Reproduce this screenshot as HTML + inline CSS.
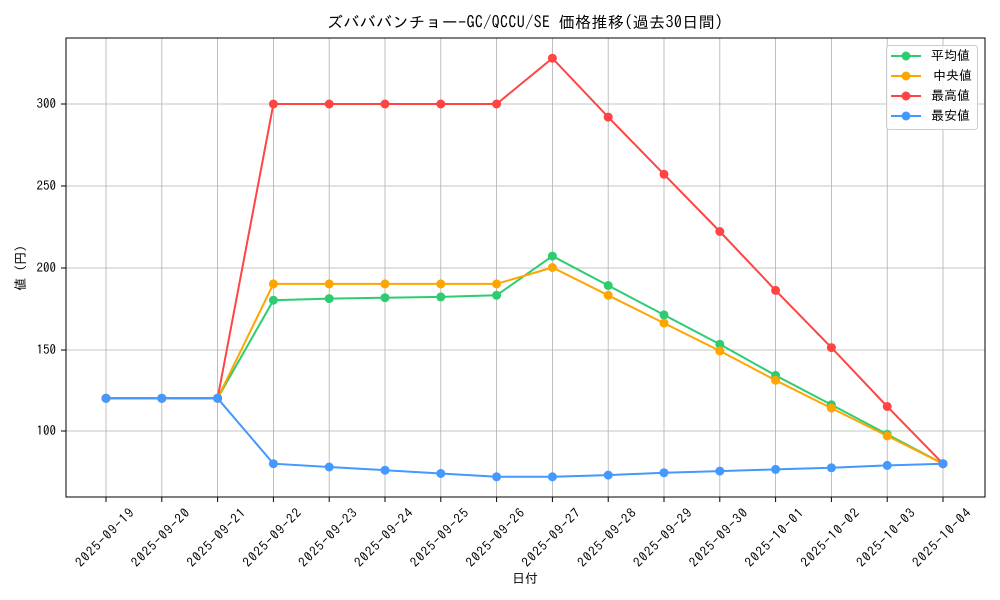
<!DOCTYPE html>
<html><head><meta charset="utf-8"><style>
body{margin:0;background:#fff}
svg{display:block;font-family:"IPAGothic","Noto Sans CJK JP",sans-serif}
</style></head><body>
<svg width="1000" height="600" xmlns="http://www.w3.org/2000/svg">
<rect width="1000" height="600" fill="#fff"/>
<g stroke="#b0b0b0" stroke-width="0.8">
<line x1="106" y1="38" x2="106" y2="497"/><line x1="161.8" y1="38" x2="161.8" y2="497"/><line x1="217.6" y1="38" x2="217.6" y2="497"/><line x1="273.4" y1="38" x2="273.4" y2="497"/><line x1="329.2" y1="38" x2="329.2" y2="497"/><line x1="385" y1="38" x2="385" y2="497"/><line x1="440.8" y1="38" x2="440.8" y2="497"/><line x1="496.6" y1="38" x2="496.6" y2="497"/><line x1="552.4" y1="38" x2="552.4" y2="497"/><line x1="608.2" y1="38" x2="608.2" y2="497"/><line x1="664" y1="38" x2="664" y2="497"/><line x1="719.8" y1="38" x2="719.8" y2="497"/><line x1="775.6" y1="38" x2="775.6" y2="497"/><line x1="831.4" y1="38" x2="831.4" y2="497"/><line x1="887.2" y1="38" x2="887.2" y2="497"/><line x1="943" y1="38" x2="943" y2="497"/>
<line x1="66" y1="104" x2="985" y2="104"/><line x1="66" y1="186" x2="985" y2="186"/><line x1="66" y1="268" x2="985" y2="268"/><line x1="66" y1="350" x2="985" y2="350"/><line x1="66" y1="431" x2="985" y2="431"/>
</g>
<rect x="66" y="38" width="919" height="459" fill="none" stroke="#000" stroke-width="1"/>
<g stroke="#000"><line x1="61" y1="104" x2="66" y2="104"/><line x1="61" y1="186" x2="66" y2="186"/><line x1="61" y1="268" x2="66" y2="268"/><line x1="61" y1="350" x2="66" y2="350"/><line x1="61" y1="431" x2="66" y2="431"/>
<line x1="106" y1="497" x2="106" y2="502"/><line x1="161.8" y1="497" x2="161.8" y2="502"/><line x1="217.6" y1="497" x2="217.6" y2="502"/><line x1="273.4" y1="497" x2="273.4" y2="502"/><line x1="329.2" y1="497" x2="329.2" y2="502"/><line x1="385" y1="497" x2="385" y2="502"/><line x1="440.8" y1="497" x2="440.8" y2="502"/><line x1="496.6" y1="497" x2="496.6" y2="502"/><line x1="552.4" y1="497" x2="552.4" y2="502"/><line x1="608.2" y1="497" x2="608.2" y2="502"/><line x1="664" y1="497" x2="664" y2="502"/><line x1="719.8" y1="497" x2="719.8" y2="502"/><line x1="775.6" y1="497" x2="775.6" y2="502"/><line x1="831.4" y1="497" x2="831.4" y2="502"/><line x1="887.2" y1="497" x2="887.2" y2="502"/><line x1="943" y1="497" x2="943" y2="502"/></g>
<g font-size="13" text-anchor="end" fill="#000"><text x="56" y="108">300</text><text x="56" y="190">250</text><text x="56" y="272">200</text><text x="56" y="354">150</text><text x="56" y="435">100</text></g>
<g font-size="13" text-anchor="middle" fill="#000">
<text transform="translate(105,538) rotate(-45)" y="4" textLength="76">2025-09-19</text><text transform="translate(160.8,538) rotate(-45)" y="4" textLength="76">2025-09-20</text><text transform="translate(216.6,538) rotate(-45)" y="4" textLength="76">2025-09-21</text><text transform="translate(272.4,538) rotate(-45)" y="4" textLength="76">2025-09-22</text><text transform="translate(328.2,538) rotate(-45)" y="4" textLength="76">2025-09-23</text><text transform="translate(384,538) rotate(-45)" y="4" textLength="76">2025-09-24</text><text transform="translate(439.8,538) rotate(-45)" y="4" textLength="76">2025-09-25</text><text transform="translate(495.6,538) rotate(-45)" y="4" textLength="76">2025-09-26</text><text transform="translate(551.4,538) rotate(-45)" y="4" textLength="76">2025-09-27</text><text transform="translate(607.2,538) rotate(-45)" y="4" textLength="76">2025-09-28</text><text transform="translate(663,538) rotate(-45)" y="4" textLength="76">2025-09-29</text><text transform="translate(718.8,538) rotate(-45)" y="4" textLength="76">2025-09-30</text><text transform="translate(774.6,538) rotate(-45)" y="4" textLength="76">2025-10-01</text><text transform="translate(830.4,538) rotate(-45)" y="4" textLength="76">2025-10-02</text><text transform="translate(886.2,538) rotate(-45)" y="4" textLength="76">2025-10-03</text><text transform="translate(942,538) rotate(-45)" y="4" textLength="76">2025-10-04</text>
</g>
<text x="525" y="583" font-size="13" text-anchor="middle">日付</text>
<text transform="translate(25,268) rotate(-90)" font-size="13" text-anchor="middle">値 (円)</text>
<text x="525" y="28" font-size="16" text-anchor="middle" textLength="396">ズバババンチョー-GC/QCCU/SE 価格推移(過去30日間)</text>
<g fill="none" stroke-width="2">
<polyline stroke="#2ecc71" points="106,398.3 161.8,398.3 217.6,398.3 273.4,300.2 329.2,298.6 385,297.7 440.8,296.9 496.6,295.3 552.4,256.1 608.2,285.5 664,314.9 719.8,344.3 775.6,375.4 831.4,404.8 887.2,434.3 943,463.7"/>
<polyline stroke="#ffa500" points="106,398.3 161.8,398.3 217.6,398.3 273.4,283.9 329.2,283.9 385,283.9 440.8,283.9 496.6,283.9 552.4,267.5 608.2,295.3 664,323.1 719.8,350.9 775.6,380.3 831.4,408.1 887.2,435.9 943,463.7"/>
<polyline stroke="#ff4444" points="106,398.3 161.8,398.3 217.6,398.3 273.4,104 329.2,104 385,104 440.8,104 496.6,104 552.4,58.2 608.2,117.1 664,174.3 719.8,231.5 775.6,290.4 831.4,347.6 887.2,406.5 943,463.7"/>
<polyline stroke="#4499ff" points="106,398.3 161.8,398.3 217.6,398.3 273.4,463.7 329.2,467 385,470.2 440.8,473.5 496.6,476.8 552.4,476.8 608.2,475.1 664,472.7 719.8,471.1 775.6,469.4 831.4,467.8 887.2,465.4 943,463.7"/>
</g>
<g fill="#2ecc71"><circle cx="106" cy="398.3" r="4.5"/><circle cx="161.8" cy="398.3" r="4.5"/><circle cx="217.6" cy="398.3" r="4.5"/><circle cx="273.4" cy="300.2" r="4.5"/><circle cx="329.2" cy="298.6" r="4.5"/><circle cx="385" cy="297.7" r="4.5"/><circle cx="440.8" cy="296.9" r="4.5"/><circle cx="496.6" cy="295.3" r="4.5"/><circle cx="552.4" cy="256.1" r="4.5"/><circle cx="608.2" cy="285.5" r="4.5"/><circle cx="664" cy="314.9" r="4.5"/><circle cx="719.8" cy="344.3" r="4.5"/><circle cx="775.6" cy="375.4" r="4.5"/><circle cx="831.4" cy="404.8" r="4.5"/><circle cx="887.2" cy="434.3" r="4.5"/><circle cx="943" cy="463.7" r="4.5"/></g>
<g fill="#ffa500"><circle cx="106" cy="398.3" r="4.5"/><circle cx="161.8" cy="398.3" r="4.5"/><circle cx="217.6" cy="398.3" r="4.5"/><circle cx="273.4" cy="283.9" r="4.5"/><circle cx="329.2" cy="283.9" r="4.5"/><circle cx="385" cy="283.9" r="4.5"/><circle cx="440.8" cy="283.9" r="4.5"/><circle cx="496.6" cy="283.9" r="4.5"/><circle cx="552.4" cy="267.5" r="4.5"/><circle cx="608.2" cy="295.3" r="4.5"/><circle cx="664" cy="323.1" r="4.5"/><circle cx="719.8" cy="350.9" r="4.5"/><circle cx="775.6" cy="380.3" r="4.5"/><circle cx="831.4" cy="408.1" r="4.5"/><circle cx="887.2" cy="435.9" r="4.5"/><circle cx="943" cy="463.7" r="4.5"/></g>
<g fill="#ff4444"><circle cx="106" cy="398.3" r="4.5"/><circle cx="161.8" cy="398.3" r="4.5"/><circle cx="217.6" cy="398.3" r="4.5"/><circle cx="273.4" cy="104" r="4.5"/><circle cx="329.2" cy="104" r="4.5"/><circle cx="385" cy="104" r="4.5"/><circle cx="440.8" cy="104" r="4.5"/><circle cx="496.6" cy="104" r="4.5"/><circle cx="552.4" cy="58.2" r="4.5"/><circle cx="608.2" cy="117.1" r="4.5"/><circle cx="664" cy="174.3" r="4.5"/><circle cx="719.8" cy="231.5" r="4.5"/><circle cx="775.6" cy="290.4" r="4.5"/><circle cx="831.4" cy="347.6" r="4.5"/><circle cx="887.2" cy="406.5" r="4.5"/><circle cx="943" cy="463.7" r="4.5"/></g>
<g fill="#4499ff"><circle cx="106" cy="398.3" r="4.5"/><circle cx="161.8" cy="398.3" r="4.5"/><circle cx="217.6" cy="398.3" r="4.5"/><circle cx="273.4" cy="463.7" r="4.5"/><circle cx="329.2" cy="467" r="4.5"/><circle cx="385" cy="470.2" r="4.5"/><circle cx="440.8" cy="473.5" r="4.5"/><circle cx="496.6" cy="476.8" r="4.5"/><circle cx="552.4" cy="476.8" r="4.5"/><circle cx="608.2" cy="475.1" r="4.5"/><circle cx="664" cy="472.7" r="4.5"/><circle cx="719.8" cy="471.1" r="4.5"/><circle cx="775.6" cy="469.4" r="4.5"/><circle cx="831.4" cy="467.8" r="4.5"/><circle cx="887.2" cy="465.4" r="4.5"/><circle cx="943" cy="463.7" r="4.5"/></g>
<rect x="886.5" y="45.5" width="91" height="84" rx="3" fill="#fff" fill-opacity="0.8" stroke="#ccc"/>
<g stroke-width="2">
<line x1="891" y1="56" x2="921" y2="56" stroke="#2ecc71"/><circle cx="906" cy="56" r="4.5" fill="#2ecc71"/>
<line x1="891" y1="76" x2="921" y2="76" stroke="#ffa500"/><circle cx="906" cy="76" r="4.5" fill="#ffa500"/>
<line x1="891" y1="96" x2="921" y2="96" stroke="#ff4444"/><circle cx="906" cy="96" r="4.5" fill="#ff4444"/>
<line x1="891" y1="116" x2="921" y2="116" stroke="#4499ff"/><circle cx="906" cy="116" r="4.5" fill="#4499ff"/>
</g>
<g font-size="13"><text x="931" y="60">平均値</text><text x="933" y="80">中央値</text><text x="931" y="100">最高値</text><text x="931" y="120">最安値</text></g>
</svg>
</body></html>
